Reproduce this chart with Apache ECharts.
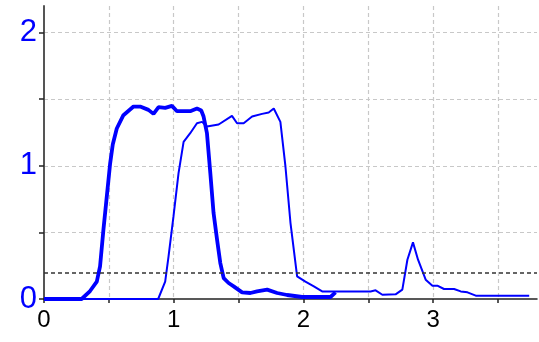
<!DOCTYPE html>
<html>
<head>
<meta charset="utf-8">
<script src="https://cdn.jsdelivr.net/npm/echarts@6/dist/echarts.min.js"></script>
<style>html,body{margin:0;padding:0;background:#fff}#c{width:539px;height:342px}</style>
</head>
<body>
<div id="c"></div>
<script>
var thickX = [0, 0.29, 0.355, 0.407, 0.432, 0.458, 0.484, 0.51, 0.53, 0.561, 0.612, 0.69, 0.741, 0.805, 0.844, 0.883, 0.934, 0.986, 1.025, 1.127, 1.179, 1.212, 1.23, 1.256, 1.282, 1.307, 1.334, 1.359, 1.385, 1.423, 1.462, 1.527, 1.591, 1.642, 1.72, 1.797, 1.874, 1.99, 2.208, 2.247];
var thickY = [0, 0, 0.06, 0.13, 0.245, 0.52, 0.77, 1.02, 1.16, 1.28, 1.38, 1.445, 1.445, 1.42, 1.39, 1.44, 1.435, 1.45, 1.41, 1.41, 1.43, 1.415, 1.37, 1.245, 0.945, 0.645, 0.445, 0.27, 0.157, 0.12, 0.095, 0.05, 0.045, 0.057, 0.07, 0.045, 0.03, 0.015, 0.015, 0.05];
var thinX = [0, 0.88, 0.934, 0.96, 0.998, 1.037, 1.076, 1.127, 1.179, 1.218, 1.256, 1.346, 1.449, 1.488, 1.539, 1.604, 1.681, 1.732, 1.771, 1.822, 1.861, 1.9, 1.951, 2.015, 2.08, 2.144, 2.517, 2.556, 2.608, 2.71, 2.762, 2.801, 2.844, 2.883, 2.942, 2.994, 3.032, 3.083, 3.161, 3.212, 3.264, 3.328, 3.74];
var thinY = [0, 0, 0.13, 0.32, 0.62, 0.945, 1.18, 1.245, 1.32, 1.33, 1.295, 1.31, 1.375, 1.32, 1.32, 1.37, 1.39, 1.40, 1.43, 1.33, 0.995, 0.57, 0.17, 0.13, 0.095, 0.057, 0.057, 0.065, 0.032, 0.035, 0.07, 0.295, 0.425, 0.295, 0.145, 0.10, 0.10, 0.075, 0.075, 0.057, 0.05, 0.025, 0.025];
var thresholdY = 0.2;
var xTicks = [0, 1, 2, 3];
var yTicks = [0, 1, 2];

function pairs(xs, ys) { return xs.map(function (x, i) { return [x, ys[i]]; }); }

var chart = echarts.init(document.getElementById('c'), null, {renderer: 'canvas'});
chart.setOption({
  animation: false,
  grid: {left: 44, right: 2, top: 6, bottom: 43, containLabel: false},
  xAxis: {
    type: 'value', min: 0, max: 3.8, interval: 0.5,
    axisLine: {show: true, onZero: false, lineStyle: {color: '#222', width: 1.5}},
    axisTick: {show: true, length: 4, lineStyle: {color: '#222', width: 1.5}},
    axisLabel: {
      color: '#000', fontSize: 24, fontFamily: 'Liberation Sans, Arial, sans-serif', margin: 9,
      formatter: function (v) { return xTicks.indexOf(v) >= 0 ? String(v) : ''; },
      showMaxLabel: false
    },
    splitLine: {show: true, showMinLine: false, showMaxLine: false, lineStyle: {color: '#c8c8c8', type: [4, 3], width: 1.2}}
  },
  yAxis: {
    type: 'value', min: 0, max: 2.2, interval: 0.5,
    axisLine: {show: true, lineStyle: {color: '#555', width: 2}},
    axisTick: {show: true, length: 5, lineStyle: {color: '#222', width: 1.5}},
    axisLabel: {
      color: '#0000ff', fontSize: 31, fontFamily: 'Liberation Sans, Arial, sans-serif', margin: 7,
      formatter: function (v) { return yTicks.indexOf(v) >= 0 ? String(v) : ''; },
      showMaxLabel: false
    },
    splitLine: {show: true, showMinLine: false, showMaxLine: false, lineStyle: {color: '#c8c8c8', type: [4, 3], width: 1.2}}
  },
  series: [
    {
      type: 'line', data: pairs(thickX, thickY), symbol: 'none',
      lineStyle: {color: '#0000ff', width: 3.8}, z: 3,
      markLine: {
        silent: true, symbol: 'none', label: {show: false},
        lineStyle: {color: '#333', type: [4, 3], width: 1.5},
        data: [{yAxis: thresholdY}]
      }
    },
    {
      type: 'line', data: pairs(thinX, thinY), symbol: 'none',
      lineStyle: {color: '#0000ff', width: 2}, z: 3
    }
  ]
});
</script>
</body>
</html>
